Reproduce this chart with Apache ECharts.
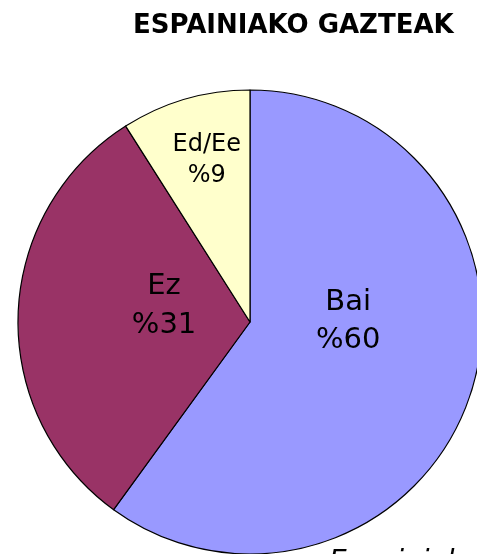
<!DOCTYPE html>
<html>
<head>
<meta charset="utf-8">
<script src="https://cdn.jsdelivr.net/npm/echarts@6/dist/echarts.min.js"></script>
<style>
	html, body { margin: 0; padding: 0; background: #fff; }
	#root { width: 477px; height: 554px; }
</style>
</head>
<body>
<div id="root"></div>
<script>
var names = ['Bai', 'Ez', 'Ed/Ee'];
var values = [60, 31, 9];
var colors = ['#9999FF', '#993366', '#FFFFCC'];

// label tweaks per slice (offset from the "inside" anchor, font size, line height)
var labelOffsets = [[-15, -37], [33, -12], [-10, -47]];
var labelSizes = [29, 29, 24];
var labelLines = [38, 39, 31];

var chart = echarts.init(document.getElementById('root'));

var pieData = names.map(function (name, i) {
	return {
		name: name,
		value: values[i],
		itemStyle: { color: colors[i] },
		label: {
			offset: labelOffsets[i],
			fontSize: labelSizes[i],
			lineHeight: labelLines[i]
		}
	};
});

chart.setOption({
	animation: false,
	title: [
		{
			text: 'ESPAINIAKO GAZTEAK',
			left: 128,
			top: 8,
			textStyle: {
				fontFamily: 'DejaVu Sans',
				fontWeight: 'bold',
				fontSize: 26,
				color: '#000'
			}
		},
		{
			text: 'Espainiak',
			left: 324,
			top: 544,
			textStyle: {
				fontFamily: 'DejaVu Sans',
				fontStyle: 'italic',
				fontWeight: 'normal',
				fontSize: 28,
				color: '#000'
			}
		}
	],
	series: [{
		type: 'pie',
		center: [250, 322],
		radius: 232,
		startAngle: 90,
		clockwise: true,
		avoidLabelOverlap: false,
		itemStyle: {
			borderColor: '#000',
			borderWidth: 1.2
		},
		label: {
			show: true,
			position: 'inside',
			formatter: function (p) { return p.name + '\n%' + p.value; },
			fontFamily: 'DejaVu Sans',
			color: '#000'
		},
		labelLine: { show: false },
		emphasis: { disabled: true },
		data: pieData
	}]
});
</script>
</body>
</html>
